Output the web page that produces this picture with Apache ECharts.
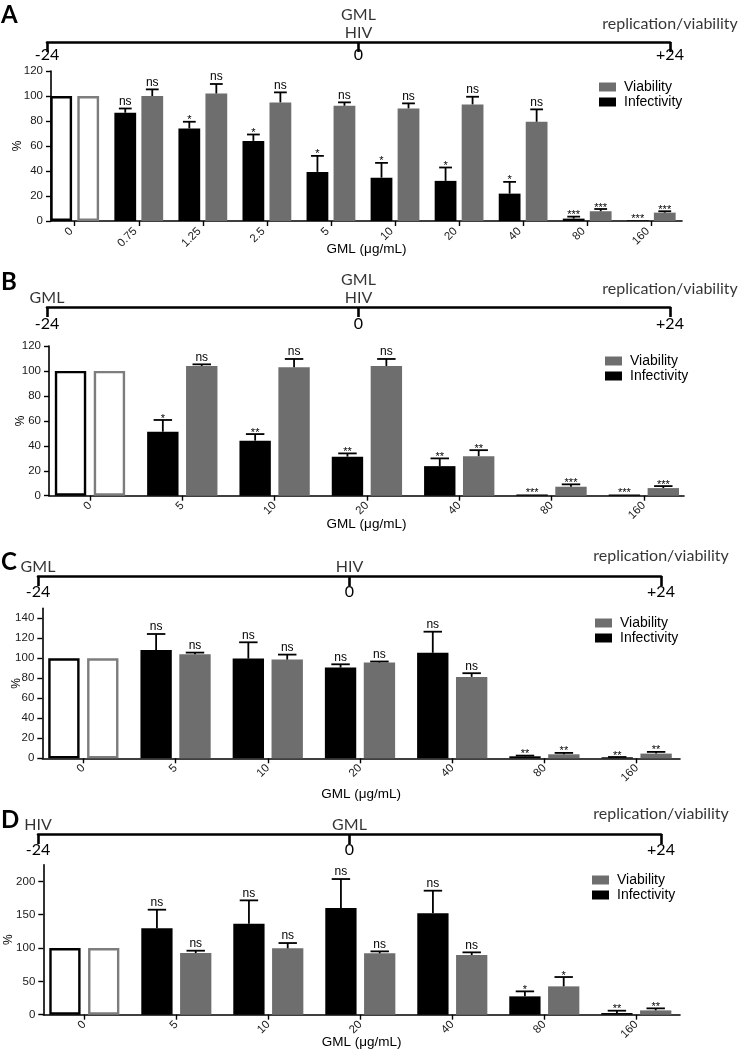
<!DOCTYPE html>
<html><head><meta charset="utf-8">
<script src="https://cdn.jsdelivr.net/npm/echarts@6/dist/echarts.min.js"></script>
<style>html,body{margin:0;padding:0;background:#fff}#c{width:740px;height:1049px}</style>
</head><body><div id="c"></div><script>
// ---------------- DATA ----------------
const catsA = ['0','0.75','1.25','2.5','5','10','20','40','80','160'];
const infA   = [100, 86.6, 74, 64.1, 39.3, 34.7, 32.1, 21.9, 1.9, 0.5];
const infErrA= [0, 3.4, 5.4, 5.1, 12.8, 11.8, 10.7, 9.4, 1.6, 0];
const viaA   = [100, 100, 102, 94.9, 92.2, 90.1, 93.3, 79.4, 7.8, 6.7];
const viaErrA= [0, 5.3, 7.6, 8.0, 2.7, 4.0, 6.1, 9.9, 1.8, 1.1];
const infSigA= ['', 'ns','*','*','*','*','*','*','***','***'];
const viaSigA= ['', 'ns','ns','ns','ns','ns','ns','ns','***','***'];

const catsBCD = ['0','5','10','20','40','80','160'];
const infB   = [100, 51.3, 44.1, 31.3, 23.7, 1, 1];
const infErrB= [0, 9.4, 5.3, 2.6, 6.2, 0, 0];
const viaB   = [100, 104, 102.9, 104, 31.7, 7.2, 6.1];
const viaErrB= [0, 1.3, 6.7, 5.6, 4.8, 1.9, 1.6];
const infSigB= ['', '*','**','**','**','***','***'];
const viaSigB= ['', 'ns','ns','ns','**','***','***'];

const infC   = [100, 108.3, 99.7, 90.7, 105.5, 2, 1];
const infErrC= [0, 16, 16.3, 3.3, 21.1, 0.7, 0.3];
const viaC   = [100, 104, 98.7, 95.8, 81.4, 4, 4.7];
const viaErrC= [0, 1.7, 5, 1, 3.7, 1.4, 1.7];
const infSigC= ['', 'ns','ns','ns','ns','**','**'];
const viaSigC= ['', 'ns','ns','ns','ns','**','**'];

const infD   = [100, 129.5, 136.5, 160, 152, 27.5, 2.5];
const infErrD= [0, 28, 35, 43.5, 34, 7.5, 3.5];
const viaD   = [100, 92.5, 99.5, 92, 89.5, 42.5, 6.5];
const viaErrD= [0, 3.5, 8, 3, 4, 14, 3];
const infSigD= ['', 'ns','ns','ns','ns','*','**'];
const viaSigD= ['', 'ns','ns','ns','ns','*','**'];

const yTicksAB = [0,20,40,60,80,100,120];
const yTicksC  = [0,20,40,60,80,100,120,140];
const yTicksD  = [0,50,100,150,200];

const timeTicks = [-24, 0, 24];
// timeline events: [hour, text, row level]
const evA = [[0,'GML',2],[0,'HIV',1],[24,'replication/viability',1.5]];
const evB = [[0,'GML',2],[-24,'GML',1],[0,'HIV',1],[24,'replication/viability',1.5]];
const evC = [[-24,'GML',1],[0,'HIV',1],[24,'replication/viability',1.6]];
const evD = [[-24,'HIV',1],[0,'GML',1],[24,'replication/viability',1.6]];

// ---------------- LAYOUT / STYLE ----------------
const BARW = 0.34, GAP = 0.24, CAP = 0.1;
const OFF = (BARW + BARW * GAP) / 2;
const GRAY = '#6e6e6e';
const FONT = 'Liberation Sans';
const HFONT = 'Lato';

const panels = [
  {letter:'A', cats:catsA, inf:infA, infErr:infErrA, via:viaA, viaErr:viaErrA, infSig:infSigA, viaSig:viaSigA,
   yTicks:yTicksAB, ymax:120, grid:{left:51, top:71, width:631, height:150}, xmin:-0.37, xmax:9.48,
   yGap:27, xGap:21, xlab:{margin:5, padding:[0,5,0,0]}, legend:{left:599, top:80},
   tl:{x0:47, x1:670, line:42, margin:5, letterY:15}, ev:evA},
  {letter:'B', cats:catsBCD, inf:infB, infErr:infErrB, via:viaB, viaErr:viaErrB, infSig:infSigB, viaSig:viaSigB,
   yTicks:yTicksAB, ymax:120, grid:{left:49, top:346, width:635, height:149.7}, xmin:-0.444, xmax:6.435,
   yGap:22, xGap:22, xlab:{margin:8, padding:0}, legend:{left:605, top:354},
   tl:{x0:47, x1:670, line:307, margin:9, letterY:282}, ev:evB},
  {letter:'C', cats:catsBCD, inf:infC, infErr:infErrC, via:viaC, viaErr:viaErrC, infSig:infSigC, viaSig:viaSigC,
   yTicks:yTicksC, ymax:150, grid:{left:42.3, top:608.3, width:637.7, height:150}, xmin:-0.445, xmax:6.47,
   yGap:20, xGap:29, xlab:{margin:8, padding:0}, legend:{left:595, top:616},
   tl:{x0:38, x1:661, line:576, margin:8, letterY:562}, ev:evC},
  {letter:'D', cats:catsBCD, inf:infD, infErr:infErrD, via:viaD, viaErr:viaErrD, infSig:infSigD, viaSig:viaSigD,
   yTicks:yTicksD, ymax:225, grid:{left:43.3, top:864.7, width:636.7, height:150}, xmin:-0.446, xmax:6.475,
   yGap:29, xGap:21, xlab:{margin:8, padding:0}, legend:{left:592, top:873},
   tl:{x0:38, x1:661, line:834, margin:8, letterY:820}, ev:evD}
];

const grid = [], xAxis = [], yAxis = [], series = [], legend = [], graphic = [];

function errRenderer(side, sigs) {
  return function (params, api) {
    const i = api.value(0), v = api.value(1), e = api.value(2);
    const cx = api.coord([i + side * OFF, v])[0];
    const yTop = api.coord([i, v])[1];
    const yErr = api.coord([i, v + e])[1];
    const half = api.size([CAP, 0])[0];
    const ch = [];
    if (e > 0) {
      ch.push({type:'line', shape:{x1:cx, y1:yTop, x2:cx, y2:yErr}, style:{stroke:'#000', lineWidth:1.8}});
      ch.push({type:'line', shape:{x1:cx-half, y1:yErr, x2:cx+half, y2:yErr}, style:{stroke:'#000', lineWidth:1.8}});
    }
    const lab = sigs[params.dataIndex];
    if (lab) {
      const star = lab[0] === '*';
      ch.push({type:'text', x:cx, y: yErr - (star ? -4 : 1),
        style:{text:lab, fontSize: star ? 11 : 12, fontFamily:FONT, fill:'#000', align:'center', verticalAlign:'bottom'}});
    }
    return {type:'group', children:ch};
  };
}

panels.forEach((p, k) => {
  const gi = 2 * k, ti = 2 * k + 1;
  grid.push(Object.assign({containLabel:false, outerBoundsMode:'none'}, p.grid));
  const idx = p.cats.map((c, i) => i);
  xAxis.push({type:'value', gridIndex:gi, min:p.xmin, max:p.xmax,
    name:'GML (\u03bcg/mL)', nameLocation:'middle', nameGap:p.xGap, nameMoveOverlap:false,
    nameTextStyle:{fontSize:13.5, fontFamily:FONT, color:'#000'},
    axisLine:{show:true, onZero:false, lineStyle:{color:'#000', width:1.6}},
    axisTick:{show:true, customValues:idx, length:5, lineStyle:{color:'#000', width:1.4}},
    axisLabel:{customValues:idx, rotate:45, margin:p.xlab.margin, padding:p.xlab.padding,
      fontSize:11.5, fontFamily:FONT, color:'#1a1a1a',
      formatter:(v) => p.cats[Math.round(v)]},
    splitLine:{show:false}});
  yAxis.push({type:'value', gridIndex:gi, min:0, max:p.ymax,
    name:'%', nameLocation:'middle', nameGap:p.yGap, nameMoveOverlap:false,
    nameTextStyle:{fontSize:12, fontFamily:FONT, color:'#000'},
    axisLine:{show:true, onZero:false, lineStyle:{color:'#000', width:1.6}},
    axisTick:{show:true, customValues:p.yTicks, length:5, lineStyle:{color:'#000', width:1.4}},
    axisLabel:{customValues:p.yTicks, fontSize:11.5, fontFamily:FONT, color:'#1a1a1a', margin:8},
    splitLine:{show:false}});
  series.push({type:'bar', name:'Infectivity', xAxisIndex:gi, yAxisIndex:gi,
    barWidth:(BARW*100)+'%', barGap:(GAP*100)+'%',
    itemStyle:{color:'#000'},
    data:p.inf.map((v, i) => i === 0 ? {value:[i, v], itemStyle:{color:'#fff', borderColor:'#000', borderWidth:2.4}} : [i, v])});
  series.push({type:'bar', name:'Viability', xAxisIndex:gi, yAxisIndex:gi,
    barWidth:(BARW*100)+'%', barGap:(GAP*100)+'%',
    itemStyle:{color:GRAY},
    data:p.via.map((v, i) => i === 0 ? {value:[i, v], itemStyle:{color:'#fff', borderColor:'#7d7d7d', borderWidth:2.4}} : [i, v])});
  series.push({type:'custom', xAxisIndex:gi, yAxisIndex:gi, z:5, silent:true,
    renderItem:errRenderer(-1, p.infSig), data:p.inf.map((v, i) => [i, v, p.infErr[i]])});
  series.push({type:'custom', xAxisIndex:gi, yAxisIndex:gi, z:5, silent:true,
    renderItem:errRenderer(1, p.viaSig), data:p.via.map((v, i) => [i, v, p.viaErr[i]])});
  legend.push({orient:'vertical', left:p.legend.left, top:p.legend.top, padding:0, itemGap:1,
    itemWidth:17, itemHeight:9, icon:'rect', selectedMode:false,
    textStyle:{fontSize:14, fontFamily:FONT, color:'#000', padding:[0,0,0,3]},
    data:['Viability','Infectivity']});

  // timeline grid
  const H = 40;
  grid.push({left:p.tl.x0, width:p.tl.x1 - p.tl.x0, top:p.tl.line - H, height:H, outerBoundsMode:'none'});
  xAxis.push({type:'value', gridIndex:ti, min:-24, max:24, position:'bottom',
    axisLine:{show:true, onZero:false, lineStyle:{color:'#000', width:2.6}},
    axisTick:{show:true, customValues:timeTicks, length:10, lineStyle:{color:'#000', width:2.6}},
    axisLabel:{customValues:timeTicks, margin:p.tl.margin, fontSize:16, fontFamily:HFONT, color:'#000',
      formatter:(v) => v > 0 ? '+' + v : String(v)},
    splitLine:{show:false}});
  yAxis.push({type:'value', gridIndex:ti, min:0, max:H, show:false});
  series.push({type:'scatter', xAxisIndex:ti, yAxisIndex:ti, symbolSize:1, silent:true,
    itemStyle:{color:'rgba(0,0,0,0)'},
    label:{show:true, position:'inside', fontSize:16, fontFamily:HFONT, color:'#000',
      formatter:(d) => d.data[2]},
    data:p.ev.map(e => [e[0], 18 * e[2] - 9, e[1]])});

  graphic.push({type:'text', left:1, top:p.tl.letterY - 12,
    style:{text:p.letter, fontSize:24, fontWeight:'bold', fontFamily:HFONT, fill:'#000'}});
});

const chart = echarts.init(document.getElementById('c'), null, {renderer:'canvas'});
chart.setOption({animation:false, backgroundColor:'#fff',
  textStyle:{fontFamily:FONT}, grid, xAxis, yAxis, series, legend, graphic});
</script></body></html>
